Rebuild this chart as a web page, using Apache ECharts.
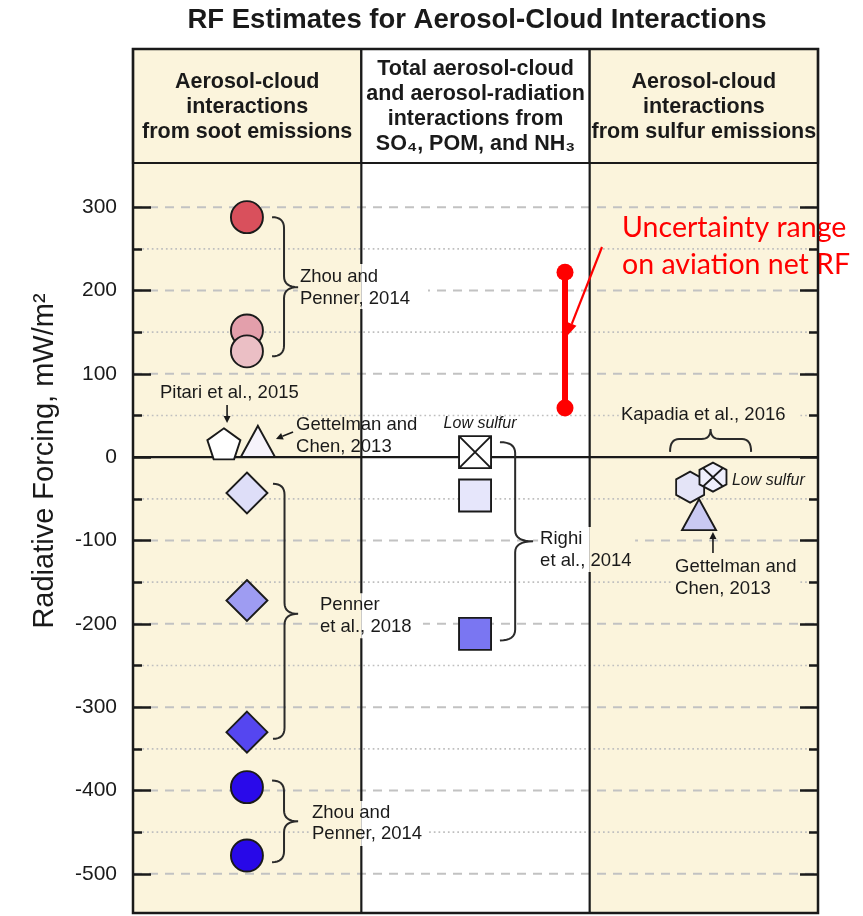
<!DOCTYPE html>
<html><head><meta charset="utf-8">
<script src="https://cdn.jsdelivr.net/npm/echarts@6/dist/echarts.min.js"></script>
<style>html,body{margin:0;padding:0;background:#fff}#c{width:863px;height:916px}</style>
</head><body><div id="c"></div>
<script>
// ===================== DATA =====================
const chartTitle = 'RF Estimates for Aerosol-Cloud Interactions';
const columnTitles = [
  'Aerosol-cloud\ninteractions\nfrom soot emissions',
  'Total aerosol-cloud\nand aerosol-radiation\ninteractions from\nSO₄, POM, and NH₃',
  'Aerosol-cloud\ninteractions\nfrom sulfur emissions'
];
const yAxisName = 'Radiative Forcing, mW/m²';
const yMajorTicks = [300, 200, 100, 0, -100, -200, -300, -400, -500];
const yMinorTicks = [250, 150, 50, -50, -150, -250, -350, -450];

// RF values (mW/m2)
const sootZhouRF = [288, 152, 127, -396, -478];      // Zhou and Penner, 2014
const sootPennerRF = [-43, -172, -330];               // Penner et al., 2018
const sootPitariRF = [16];                            // Pitari et al., 2015
const sootGettelmanRF = [19];                         // Gettelman and Chen, 2013
const righiRF = [6, -46, -212];                       // Righi et al., 2014 (first = low sulfur)
const kapadiaRF = [-36];                              // Kapadia et al., 2016
const kapadiaLowSulfurRF = [-24];                     // Kapadia et al., 2016, low sulfur
const sulfurGettelmanRF = [-69];                      // Gettelman and Chen, 2013
const aviationNetRFRange = [59, 222];                 // uncertainty range on aviation net RF

const annotationTexts = [
  'Zhou and\nPenner, 2014', 'Pitari et al., 2015', 'Gettelman and\nChen, 2013', 'Low sulfur',
  'Penner\net al., 2018', 'Zhou and\nPenner, 2014', 'Righi\net al., 2014', 'Kapadia et al., 2016',
  'Low sulfur', 'Gettelman and\nChen, 2013', 'Uncertainty range\non aviation net RF'
];

// ===================== LAYOUT / STYLE =====================
const Y_MIN = -547, Y_MAX = 353;
const G = { left: 133, right: 818, top: 163, bottom: 913, headerTop: 49 };
const CREAM = '#fbf4dc';
const FONT = '"Liberation Sans", Arial, Helvetica, sans-serif';
const INK = '#1a1a1a';
const bandFill = [CREAM, '#ffffff', CREAM];

// x positions in column units (0..3)
const X = { soot: 0.499, pitari: 0.398, gettSoot: 0.547, righi: 1.498, unc: 1.892,
            kapadia: 2.44, kapadiaLow: 2.54, gettSulfur: 2.479 };
const zhouFill = ['#d9505c', '#e39fab', '#ebbfc5', '#2a0aea', '#2808e8'];
const pennerFill = ['#dedef8', '#9e9cf2', '#5546f0'];
const righiFill = ['#ffffff', '#e6e6fb', '#7a76f2'];

// annotation anchors: [x (col units), y (RF units) of first line centre, align]
const annotationPos = [
  [0.731, 216, 'left'], [0.118, 77, 'left'], [0.714, 38.6, 'left'], [1.52, 39.8, 'center'],
  [0.819, -177.4, 'left'], [0.784, -426.7, 'left'], [1.783, -98.2, 'left'], [2.137, 50.6, 'left'],
  [2.623, -28.6, 'left'], [2.374, -131.8, 'left'], [2.142, 274.8, 'left']
];
const annotationStyle = ['n','n','n','i','n','n','n','n','i','n','r'];
// masks hiding grid lines behind labels: [x0, x1, yTop, yBottom]
const masks = [
  [0.722, 1.292, 231.8, 177.8], [0.81, 1.27, -163.4, -217.4], [0.775, 1.288, -412.6, -466.6],
  [1.774, 2.199, -83.8, -137.8], [2.365, 2.921, -119, -171.8], [2.128, 2.921, 62.6, 38.6]
];
// braces: [x0, xTip, yTop, yBottom, yTip]
const braces = [
  [0.609, 0.723, 288, 121, 204], [0.613, 0.723, -32, -338, -188], [0.609, 0.723, -388, -486, -437],
  [1.607, 1.752, 18, -220, -101]
];
// horizontal brace: [xLeft, xRight, yBase, yMid, yTip]
const hBraces = [[2.352, 2.707, 6.4, 21.8, 33.8]];
// arrows: [x1, y1, x2, y2, red?]
const arrows = [
  [0.412, 62.6, 0.412, 41.0, 0], [0.701, 30.2, 0.626, 21.8, 0], [2.54, -115, 2.54, -89.8, 0],
  [2.054, 252.2, 1.901, 145.4, 1]
];

const PENTAGON = 'path://M50,0L100,36.3L80.9,95.1L19.1,95.1L0,36.3Z';
const HEXAGON = 'path://M50,0L93.3,25L93.3,75L50,100L6.7,75L6.7,25Z';
const HEX_CROSS = 'path://M50,0L93.3,25L93.3,75L50,100L6.7,75L6.7,25ZM19,19L81,81M81,19L19,81';
const SQUARE_CROSS = 'path://M0,0L100,0L100,100L0,100ZM0,0L100,100M100,0L0,100';

// ===================== CHART =====================
const chart = echarts.init(document.getElementById('c'));

function pointData(x, vals, fills) {
  return vals.map((v, i) => ({ value: [x, v], itemStyle: { color: fills[i], opacity: 1 } }));
}
function quad(p0, c, p1, n) {
  const out = [];
  for (let k = 1; k <= n; k++) {
    const t = k / n, a = (1 - t) * (1 - t), b = 2 * (1 - t) * t, d = t * t;
    out.push([a * p0[0] + b * c[0] + d * p1[0], a * p0[1] + b * c[1] + d * p1[1]]);
  }
  return out;
}
const markBase = { type: 'scatter', z: 6, itemStyle: { borderColor: INK, borderWidth: 1.9, opacity: 1 },
                   emphasis: { disabled: true } };

function yAxisDef(pos, ticks, len, labels) {
  return {
    type: 'value', min: Y_MIN, max: Y_MAX, position: pos, z: 10,
    axisLine: { show: false }, splitLine: { show: false },
    axisTick: { show: true, inside: true, length: len, customValues: ticks, lineStyle: { color: INK, width: 2.5 } },
    axisLabel: labels ? { show: true, customValues: ticks, fontSize: 21, color: INK, margin: 16, fontFamily: FONT }
                      : { show: false }
  };
}

const headerGraphics = [];
for (let i = 0; i < 3; i++) {
  const w = (G.right - G.left) / 3;
  headerGraphics.push({
    type: 'rect', shape: { x: G.left + i * w, y: G.headerTop, width: w, height: G.top - G.headerTop },
    style: { fill: bandFill[i], stroke: INK, lineWidth: 2.2 }, z: 1
  });
  headerGraphics.push({
    type: 'text', z: 2,
    style: { text: columnTitles[i], x: G.left + (i + 0.5) * w, y: (G.headerTop + G.top) / 2 + 1,
      align: 'center', verticalAlign: 'middle', fontFamily: FONT, fontWeight: 'bold', fontSize: 21.5,
      lineHeight: 25, fill: INK }
  });
}

const option = {
  animation: false,
  grid: { left: G.left, right: 863 - G.right, top: G.top, bottom: 916 - G.bottom, show: false },
  xAxis: { type: 'value', min: 0, max: 3, show: false },
  yAxis: [yAxisDef('left', yMajorTicks, 18, true), yAxisDef('left', yMinorTicks, 9, false),
          yAxisDef('right', yMajorTicks, 18, false), yAxisDef('right', yMinorTicks, 9, false)],
  graphic: [
    { type: 'text', z: 5, style: { text: chartTitle, x: 477, y: 20, align: 'center', verticalAlign: 'middle',
      fontFamily: FONT, fontWeight: 'bold', fontSize: 27.5, fill: INK } },
    { type: 'text', z: 5, rotation: Math.PI / 2, x: 45, y: 461,
      style: { text: yAxisName, x: 0, y: 0, align: 'center', verticalAlign: 'middle',
      fontFamily: FONT, fontSize: 29, fill: INK } },
    ...headerGraphics,
    { type: 'rect', z: 100, shape: { x: G.left, y: G.headerTop, width: G.right - G.left, height: G.bottom - G.headerTop },
      style: { fill: null, stroke: INK, lineWidth: 2.5 } }
  ],
  series: [
    { // column bands
      type: 'custom', z: -1, silent: true, data: [[0], [1], [2]],
      renderItem: (p, api) => {
        const i = api.value(0), a = api.coord([i, Y_MAX]), b = api.coord([i + 1, Y_MIN]);
        return { type: 'rect', shape: { x: a[0], y: a[1], width: b[0] - a[0], height: b[1] - a[1] }, style: { fill: bandFill[i] } };
      }
    },
    { // grid lines
      type: 'custom', z: 1, silent: true,
      data: yMajorTicks.filter(v => v !== 0).map(v => [v, 0]).concat(yMinorTicks.map(v => [v, 1])).concat([[0, 2]]),
      renderItem: (p, api) => {
        const v = api.value(0), k = api.value(1), a = api.coord([0, v]), b = api.coord([3, v]);
        const st = k === 0 ? { stroke: '#c2c2c2', lineWidth: 2, lineDash: [9, 7] }
                 : k === 1 ? { stroke: '#bfbfbf', lineWidth: 1.7, lineDash: [1.7, 3] }
                 : { stroke: INK, lineWidth: 2.2 };
        return { type: 'line', shape: { x1: a[0], y1: a[1], x2: b[0], y2: b[1] }, style: st };
      }
    },
    { // column dividers
      type: 'custom', z: 2, silent: true, data: [[1], [2]],
      renderItem: (p, api) => {
        const a = api.coord([api.value(0), Y_MAX]), b = api.coord([api.value(0), Y_MIN]);
        return { type: 'line', shape: { x1: a[0], y1: a[1], x2: b[0], y2: b[1] }, style: { stroke: INK, lineWidth: 2.2 } };
      }
    },
    { // label masks
      type: 'custom', z: 3, silent: true, data: masks,
      renderItem: (p, api) => {
        const x0 = api.value(0), x1 = api.value(1), y0 = api.value(2), y1 = api.value(3);
        const children = [];
        for (let c = 0; c < 3; c++) {
          const l = Math.max(x0, c), r = Math.min(x1, c + 1);
          if (r <= l) continue;
          const a = api.coord([l, y0]), b = api.coord([r, y1]);
          children.push({ type: 'rect', shape: { x: a[0], y: a[1], width: b[0] - a[0], height: b[1] - a[1] }, style: { fill: bandFill[c] } });
        }
        return { type: 'group', children };
      }
    },
    { // vertical braces
      type: 'custom', z: 4, silent: true, data: braces,
      renderItem: (p, api) => {
        const x0 = api.coord([api.value(0), 0])[0], x1 = api.coord([api.value(1), 0])[0];
        const yt = api.coord([0, api.value(2)])[1], yb = api.coord([0, api.value(3)])[1], ym = api.coord([0, api.value(4)])[1];
        const xm = x0 + (x1 - x0) * 0.46, r = Math.min(11, (yb - yt) / 5);
        let pts = [[x0, yt]];
        pts = pts.concat(quad([x0, yt], [xm, yt], [xm, yt + r], 8));
        pts.push([xm, ym - r]);
        pts = pts.concat(quad([xm, ym - r], [xm, ym], [x1, ym], 8));
        pts = pts.concat(quad([x1, ym], [xm, ym], [xm, ym + r], 8));
        pts.push([xm, yb - r]);
        pts = pts.concat(quad([xm, yb - r], [xm, yb], [x0, yb], 8));
        return { type: 'polyline', shape: { points: pts }, style: { stroke: '#2a2a2a', lineWidth: 2, fill: null } };
      }
    },
    { // horizontal brace
      type: 'custom', z: 4, silent: true, data: hBraces,
      renderItem: (p, api) => {
        const xa = api.coord([api.value(0), 0])[0], xb = api.coord([api.value(1), 0])[0], xc = (xa + xb) / 2;
        const yb = api.coord([0, api.value(2)])[1], ym = api.coord([0, api.value(3)])[1], yt = api.coord([0, api.value(4)])[1];
        const r = 9;
        let pts = [[xa, yb]];
        pts = pts.concat(quad([xa, yb], [xa, ym], [xa + r, ym], 8));
        pts.push([xc - r, ym]);
        pts = pts.concat(quad([xc - r, ym], [xc, ym], [xc, yt], 8));
        pts = pts.concat(quad([xc, yt], [xc, ym], [xc + r, ym], 8));
        pts.push([xb - r, ym]);
        pts = pts.concat(quad([xb - r, ym], [xb, ym], [xb, yb], 8));
        return { type: 'polyline', shape: { points: pts }, style: { stroke: '#2a2a2a', lineWidth: 2, fill: null } };
      }
    },
    { // arrows
      type: 'custom', z: 4, silent: true, data: arrows,
      renderItem: (p, api) => {
        const a = api.coord([api.value(0), api.value(1)]), b = api.coord([api.value(2), api.value(3)]);
        const red = api.value(4) === 1, col = red ? '#ff0000' : '#1a1a1a';
        const dx = b[0] - a[0], dy = b[1] - a[1], L = Math.hypot(dx, dy), ux = dx / L, uy = dy / L;
        const hl = red ? 13 : 7, hw = red ? 5 : 3.5;
        const bx = b[0] - ux * hl, by = b[1] - uy * hl;
        return { type: 'group', children: [
          { type: 'line', shape: { x1: a[0], y1: a[1], x2: bx, y2: by }, style: { stroke: col, lineWidth: red ? 2.2 : 1.6 } },
          { type: 'polygon', shape: { points: [[b[0], b[1]], [bx - uy * hw, by + ux * hw], [bx + uy * hw, by - ux * hw]] }, style: { fill: col } }
        ] };
      }
    },
    { // annotations
      type: 'custom', z: 7, silent: true, data: annotationPos.map(a => [a[0], a[1]]),
      renderItem: (p, api) => {
        const i = p.dataIndex, c = api.coord([api.value(0), api.value(1)]);
        const s = annotationStyle[i];
        const st = s === 'r'
          ? { fontFamily: 'Lato, "Open Sans", sans-serif', fontSize: 28.5, lineHeight: 37, fill: '#ff0000' }
          : s === 'i'
          ? { fontFamily: FONT, fontSize: 16, fontStyle: 'italic', lineHeight: 20, fill: INK }
          : { fontFamily: FONT, fontSize: 18.5, lineHeight: 21.5, fill: INK };
        return { type: 'text', x: c[0], y: c[1] - st.lineHeight / 2,
          style: Object.assign({ text: annotationTexts[i], align: annotationPos[i][2], verticalAlign: 'top' }, st) };
      }
    },
    Object.assign({}, markBase, { name: 'Zhou and Penner, 2014', symbol: 'circle', symbolSize: 32,
      data: pointData(X.soot, sootZhouRF, zhouFill) }),
    Object.assign({}, markBase, { name: 'Penner et al., 2018', symbol: 'diamond', symbolSize: [41, 41],
      data: pointData(X.soot, sootPennerRF, pennerFill) }),
    Object.assign({}, markBase, { name: 'Pitari et al., 2015', symbol: PENTAGON, symbolSize: [33, 31],
      data: pointData(X.pitari, sootPitariRF, ['#ffffff']) }),
    Object.assign({}, markBase, { name: 'Gettelman and Chen, 2013 (soot)', symbol: 'triangle', symbolSize: [34, 31],
      data: pointData(X.gettSoot, sootGettelmanRF, ['#f6f3fb']) }),
    Object.assign({}, markBase, { name: 'Righi et al., 2014 low sulfur', symbol: SQUARE_CROSS, symbolSize: 32,
      data: pointData(X.righi, righiRF.slice(0, 1), righiFill.slice(0, 1)) }),
    Object.assign({}, markBase, { name: 'Righi et al., 2014', symbol: 'rect', symbolSize: 32,
      data: pointData(X.righi, righiRF.slice(1), righiFill.slice(1)) }),
    Object.assign({}, markBase, { name: 'Kapadia et al., 2016', symbol: HEXAGON, symbolSize: [28, 31],
      data: pointData(X.kapadia, kapadiaRF, ['#e4e4f7']) }),
    Object.assign({}, markBase, { name: 'Kapadia et al., 2016 low sulfur', symbol: HEX_CROSS, symbolSize: [27, 29],
      data: pointData(X.kapadiaLow, kapadiaLowSulfurRF, ['#efeffc']) }),
    Object.assign({}, markBase, { name: 'Gettelman and Chen, 2013 (sulfur)', symbol: 'triangle', symbolSize: [34, 31],
      data: pointData(X.gettSulfur, sulfurGettelmanRF, ['#c9c9f2']) }),
    { name: 'Uncertainty range on aviation net RF', type: 'line', z: 8, symbol: 'circle', symbolSize: 17,
      lineStyle: { color: '#ff0000', width: 6 }, itemStyle: { color: '#ff0000' }, emphasis: { disabled: true },
      data: aviationNetRFRange.map(v => [X.unc, v]) }
  ]
};
chart.setOption(option);
</script></body></html>
